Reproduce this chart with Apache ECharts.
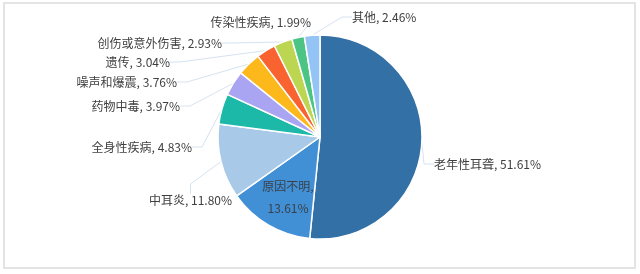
<!DOCTYPE html>
<html>
<head>
<meta charset="utf-8">
<script src="https://cdn.jsdelivr.net/npm/echarts@6/dist/echarts.min.js"></script>
<style>
html,body{margin:0;padding:0;background:#fff;}
#c{width:640px;height:274px;}
</style>
</head>
<body>
<div id="c"></div>
<script>
const categories = ['老年性耳聋','原因不明','中耳炎','全身性疾病','药物中毒','噪声和爆震','遗传','创伤或意外伤害','传染性疾病','其他'];
const values = [51.61, 13.61, 11.80, 4.83, 3.97, 3.76, 3.04, 2.93, 1.99, 2.46];
const colors = ['#3370a6','#4190d6','#a8c9e8','#1cb8a8','#a9a5f2','#fdb81c','#f8632f','#bcd651','#4cc584','#94c4f6'];

// label anchor positions [x, y, align]
const labelPos = [
  [434, 164, 'left'],
  [288, 197, 'center'],
  [232, 200, 'right'],
  [192, 147, 'right'],
  [180, 106, 'right'],
  [177, 82, 'right'],
  [170, 62, 'right'],
  [222, 43, 'right'],
  [311, 22, 'right'],
  [352, 17, 'left']
];

const chart = echarts.init(document.getElementById('c'), null, {renderer:'canvas'});
const fmt = (sep) => (p) => p.name + ',' + sep + p.value.toFixed(2) + '%';
const data = categories.map((n,i)=>{
  const d = {name:n, value:values[i], itemStyle:{color:colors[i]}};
  if (i === 1) {
    d.label = {position:'inside', formatter:fmt('\n'), lineHeight:22, color:'#3a3f47'};
    d.labelLine = {show:false};
  }
  return d;
});
chart.setOption({
  animation:false,
  graphic:[{
    type:'rect', shape:{x:4, y:3, width:631, height:265},
    style:{fill:'none', stroke:'#e4e4e4', lineWidth:2}, silent:true
  }],
  series:[{
    type:'pie',
    center:[320,137],
    radius:[0,102],
    startAngle:90,
    clockwise:true,
    avoidLabelOverlap:false,
    itemStyle:{borderColor:'#fff', borderWidth:1.5},
    label:{
      show:true,
      formatter:fmt(' '),
      fontFamily:'"Noto Sans CJK SC", sans-serif',
      fontSize:12,
      color:'#404040'
    },
    labelLine:{show:true, length:10, length2:10, lineStyle:{color:'#d5e2ef', width:1}},
    labelLayout:function(p){
      const q = labelPos[p.dataIndex];
      return {x:q[0], y:q[1], align:q[2], verticalAlign:'middle'};
    },
    data:data
  }]
});
</script>
</body>
</html>
